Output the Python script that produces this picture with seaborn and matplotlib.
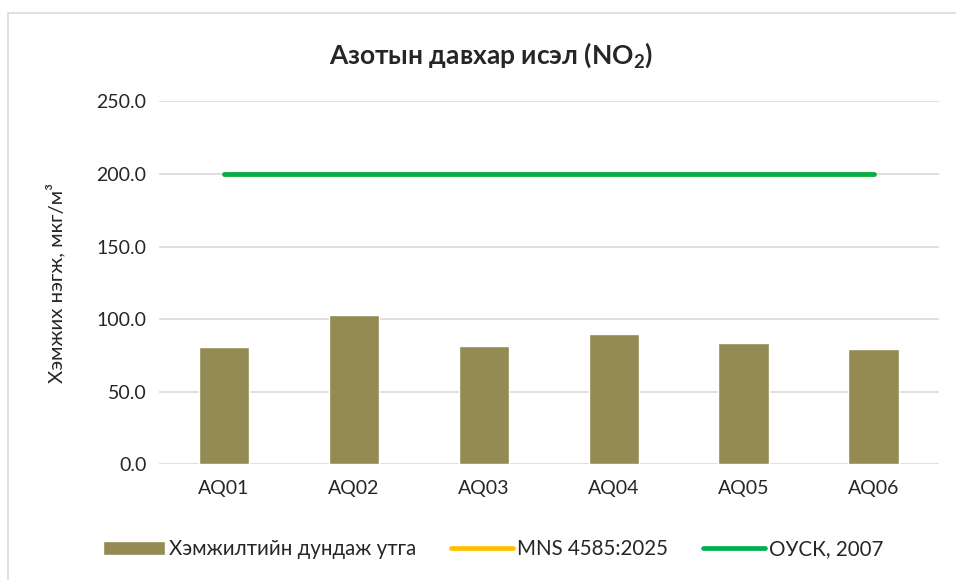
# plot.py
# Recreate the NO2 concentration bar chart with the two reference limit lines.

# Import matplotlib for figure handling.
import matplotlib.pyplot as plt

# Import numpy for category positions.
import numpy as np

# Import pandas to hold the data table.
import pandas as pd

# Import seaborn for the bars and lines.
import seaborn as sns

# Import Rectangle for the chart border.
from matplotlib.patches import Rectangle

# Station names shown on the x-axis.
stations = ["AQ01", "AQ02", "AQ03", "AQ04", "AQ05", "AQ06"]

# Mean measured NO2 value per station.
mean_values = [81.0, 102.5, 81.5, 90.0, 83.5, 79.3]

# MNS 4585:2025 limit per station.
mns_limit = [200.0, 200.0, 200.0, 200.0, 200.0, 200.0]

# ОУСК, 2007 limit per station.
ousk_limit = [200.0, 200.0, 200.0, 200.0, 200.0, 200.0]

# Y-axis tick values.
y_ticks = [0, 50, 100, 150, 200, 250]

# Legend order as in the reference.
legend_order = ["Хэмжилтийн дундаж утга", "MNS 4585:2025", "ОУСК, 2007"]

# Build a table for seaborn.
df = pd.DataFrame({
    "station": stations,
    "pos": np.arange(len(stations)),
    "mean": mean_values,
    "mns": mns_limit,
    "ousk": ousk_limit,
})

# Use a plain white style.
sns.set_style("white")

# Set the font list after seaborn so it is not overwritten.
plt.rcParams["font.family"] = ["Lato", "DejaVu Sans"]
plt.rcParams["mathtext.fontset"] = "custom"
plt.rcParams["mathtext.rm"] = "Lato"
plt.rcParams["mathtext.bf"] = "Lato:bold"

# Colours.
bar_color = "#948A54"
mns_color = "#FFC000"
ousk_color = "#00B050"
grid_color = "#D9D9D9"

# Create the figure at 956x580 pixels.
fig = plt.figure(figsize=(9.56, 5.8), dpi=100)

# Place the plot area where it sits in the reference.
ax = fig.add_axes([0.1663, 0.1995, 0.8157, 0.6257])

# Draw the mean value bars.
sns.barplot(data=df, x="pos", y="mean", color=bar_color, width=0.39,
            saturation=1, ax=ax, label=legend_order[0], zorder=2)

# Draw the MNS limit line (hidden under the green one).
sns.lineplot(data=df, x="pos", y="mns", color=mns_color, linewidth=3.4,
             ax=ax, label=legend_order[1], zorder=3,
             solid_capstyle="round")

# Draw the ОУСК limit line.
sns.lineplot(data=df, x="pos", y="ousk", color=ousk_color, linewidth=3.4,
             ax=ax, label=legend_order[2], zorder=4,
             solid_capstyle="round")

# Axis limits and ticks.
ax.set_xlim(-0.5, len(stations) - 0.5)
ax.set_ylim(0, 250)
ax.set_yticks(y_ticks)
ax.set_yticklabels([f"{v:.1f}" for v in y_ticks], fontsize=14)
ax.set_xticks(df["pos"])
ax.set_xticklabels(stations, fontsize=14)
ax.tick_params(axis="y", length=0, pad=9)
ax.tick_params(axis="x", length=0, pad=11)

# Horizontal gridlines only.
ax.yaxis.grid(True, color=grid_color, linewidth=1.2, zorder=0)
ax.set_axisbelow(True)

# Hide axis spines.
for side in ["top", "right", "left", "bottom"]:
    ax.spines[side].set_visible(False)

# Clear the default axis labels.
ax.set_xlabel("")
ax.set_ylabel("")

# Chart title.
fig.text(0.5136, 0.905, r"Азотын давхар исэл (NO$_\mathbf{2}$)",
         ha="center", va="center", fontsize=19, fontweight="bold")

# Y-axis title.
fig.text(0.058, 0.512, "Хэмжих нэгж, мкг/м³", rotation=90,
         ha="center", va="center", fontsize=14.7)

# Legend below the plot, ordered bars first.
ax.get_legend().remove()
handles, labels = ax.get_legend_handles_labels()
lookup = dict(zip(labels, handles))
fig.legend([lookup[name] for name in legend_order], legend_order,
           loc="center", bbox_to_anchor=(0.516, 0.053),
           ncol=3, frameon=False, fontsize=14.8, handlelength=3.0,
           handletextpad=0.2, columnspacing=1.7)

# Light grey chart border.
fig.patches.append(Rectangle((7.5 / 956, -0.1), 1.2, 1.1 - 12.5 / 580,
                             transform=fig.transFigure, fill=False,
                             edgecolor="#D9D9D9", linewidth=1.2))

# Save the chart.
fig.savefig("out.png", dpi=100)

# Close the figure to free memory.
plt.close(fig)
